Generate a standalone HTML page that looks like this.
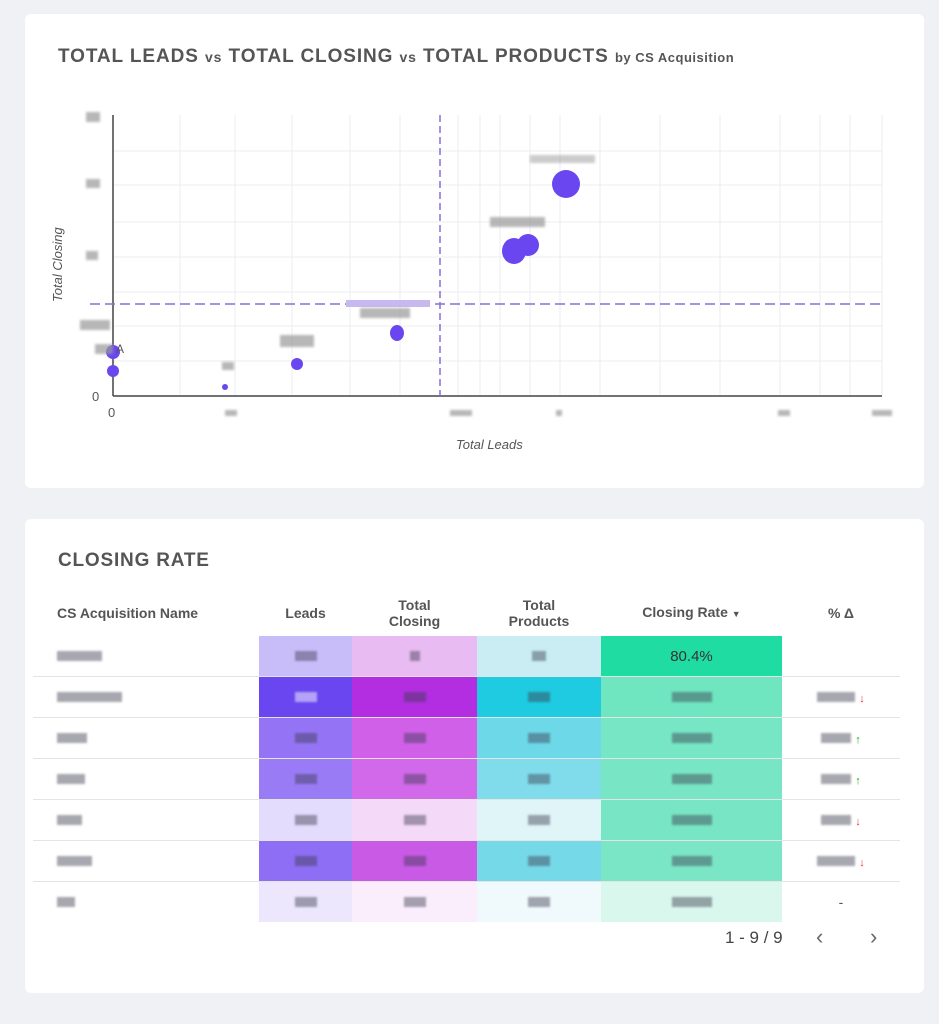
<!DOCTYPE html>
<html><head><meta charset="utf-8"><style>
body{margin:0;width:939px;height:1024px;background:#f0f1f4;font-family:"Liberation Sans",sans-serif;position:relative;overflow:hidden}
.card{position:absolute;left:25px;width:899px;background:#fff;border-radius:6px}
.t{position:absolute;font-weight:bold;color:#555;}
.blk{position:absolute;background:#999;filter:blur(1.2px);opacity:.7}
table{position:absolute;left:33px;top:590px;border-collapse:collapse}
td,th{padding:0;text-align:center;font-size:14px;color:#555}
th{height:46px;font-weight:bold;line-height:16px}
td{height:40px;border-bottom:1px solid #e4e4e4}
.g{display:inline-block;width:22px;height:10px;background:rgba(60,60,80,.45);filter:blur(1px)}
</style></head><body>
<div class="card" style="top:14px;height:474px"></div>
<div class="card" style="top:519px;height:474px"></div>
<div class="t" style="left:58px;top:46px;font-size:19px;letter-spacing:0.9px">TOTAL LEADS <span style="font-size:14px">vs</span> TOTAL CLOSING <span style="font-size:14px">vs</span> TOTAL PRODUCTS <span style="font-size:13px;letter-spacing:0.5px">by CS Acquisition</span></div>
<svg style="position:absolute;left:0;top:0" width="939" height="480">
<g stroke="#ececf2" stroke-width="1">
<line x1="113" y1="151" x2="882" y2="151"/><line x1="113" y1="185" x2="882" y2="185"/><line x1="113" y1="222" x2="882" y2="222"/><line x1="113" y1="257" x2="882" y2="257"/><line x1="113" y1="292" x2="882" y2="292"/><line x1="113" y1="326" x2="882" y2="326"/><line x1="113" y1="361" x2="882" y2="361"/>
<line x1="180" y1="115" x2="180" y2="396"/><line x1="235" y1="115" x2="235" y2="396"/><line x1="292" y1="115" x2="292" y2="396"/><line x1="350" y1="115" x2="350" y2="396"/><line x1="400" y1="115" x2="400" y2="396"/><line x1="458" y1="115" x2="458" y2="396"/><line x1="480" y1="115" x2="480" y2="396"/><line x1="500" y1="115" x2="500" y2="396"/><line x1="530" y1="115" x2="530" y2="396"/><line x1="560" y1="115" x2="560" y2="396"/><line x1="600" y1="115" x2="600" y2="396"/><line x1="660" y1="115" x2="660" y2="396"/><line x1="720" y1="115" x2="720" y2="396"/><line x1="780" y1="115" x2="780" y2="396"/><line x1="820" y1="115" x2="820" y2="396"/><line x1="850" y1="115" x2="850" y2="396"/><line x1="882" y1="115" x2="882" y2="396"/>
</g>
<line x1="113" y1="115" x2="113" y2="396" stroke="#444" stroke-width="1.5"/>
<line x1="113" y1="396" x2="882" y2="396" stroke="#444" stroke-width="1.5"/>
<line x1="440" y1="115" x2="440" y2="396" stroke="#8a6fd8" stroke-width="1.5" stroke-dasharray="7,4"/>
<line x1="90" y1="304" x2="882" y2="304" stroke="#8a6fd8" stroke-width="1.5" stroke-dasharray="10,5"/>
<g fill="#6a46f0">
<ellipse cx="566" cy="184" rx="14" ry="14"/><ellipse cx="514" cy="251" rx="12" ry="13"/><ellipse cx="528" cy="245" rx="11" ry="11"/><ellipse cx="397" cy="333" rx="7" ry="8"/><ellipse cx="297" cy="364" rx="6" ry="6"/><ellipse cx="113" cy="352" rx="7" ry="7"/><ellipse cx="113" cy="371" rx="6" ry="6"/><circle cx="225" cy="387" r="3"/>
</g>
<g font-size="13" fill="#555"><text x="92" y="401">0</text><text x="108" y="417">0</text><text x="116" y="353" font-size="12">A</text>
<text x="456" y="449" font-style="italic">Total Leads</text>
<text transform="translate(62,302) rotate(-90)" font-style="italic">Total Closing</text></g>
<rect x="346" y="300" width="84" height="7" fill="#c8b8f0"/>
</svg>
<div class="blk" style="left:86px;top:112px;width:14px;height:10px"></div>
<div class="blk" style="left:86px;top:179px;width:14px;height:9px"></div>
<div class="blk" style="left:86px;top:251px;width:12px;height:9px"></div>
<div class="blk" style="left:80px;top:320px;width:30px;height:10px"></div>
<div class="blk" style="left:95px;top:344px;width:18px;height:10px"></div>
<div class="blk" style="left:280px;top:335px;width:34px;height:12px"></div>
<div class="blk" style="left:222px;top:362px;width:12px;height:8px"></div>
<div class="blk" style="left:360px;top:308px;width:50px;height:10px"></div>
<div class="blk" style="left:490px;top:217px;width:55px;height:10px"></div>
<div class="blk" style="left:530px;top:155px;width:65px;height:8px;opacity:.5"></div>
<div class="blk" style="left:225px;top:410px;width:12px;height:6px"></div>
<div class="blk" style="left:450px;top:410px;width:22px;height:6px"></div>
<div class="blk" style="left:556px;top:410px;width:6px;height:6px"></div>
<div class="blk" style="left:778px;top:410px;width:12px;height:6px"></div>
<div class="blk" style="left:872px;top:410px;width:20px;height:6px"></div>

<div class="t" style="left:58px;top:550px;font-size:19px;letter-spacing:0.8px">CLOSING RATE</div>
<table>
<tr><th style="width:226px;text-align:left;padding-left:24px;box-sizing:border-box">CS Acquisition Name</th><th style="width:93px">Leads</th><th style="width:125px">Total<br>Closing</th><th style="width:124px">Total<br>Products</th><th style="width:181px">Closing Rate <span style="font-size:9px">▼</span></th><th style="width:118px">% Δ</th></tr>
<tr><td style="text-align:left;padding-left:24px"><span class="g" style="width:45px"></span></td><td style="background:#c9bdf9"><span class="g"></span></td><td style="background:#e9bbf3"><span class="g" style="width:10px"></span></td><td style="background:#c9edf3"><span class="g" style="width:14px"></span></td><td style="background:#1fdda2;color:#333;font-size:15px">80.4%</td><td></td></tr>
<tr><td style="text-align:left;padding-left:24px"><span class="g" style="width:65px"></span></td><td style="background:#6a46f0"><span class="g" style="background:rgba(255,255,255,.5)"></span></td><td style="background:#b22ee0"><span class="g"></span></td><td style="background:#1ecbe0"><span class="g"></span></td><td style="background:#6fe5c0"><span class="g" style="width:40px"></span></td><td><span class="g" style="width:38px"></span> <span style="color:#e33;font-size:11px">↓</span></td></tr>
<tr><td style="text-align:left;padding-left:24px"><span class="g" style="width:30px"></span></td><td style="background:#9474f5"><span class="g"></span></td><td style="background:#d060e8"><span class="g"></span></td><td style="background:#6dd8e8"><span class="g"></span></td><td style="background:#76e6c4"><span class="g" style="width:40px"></span></td><td><span class="g" style="width:30px"></span> <span style="color:#2a2;font-size:11px">↑</span></td></tr>
<tr><td style="text-align:left;padding-left:24px"><span class="g" style="width:28px"></span></td><td style="background:#9a7bf6"><span class="g"></span></td><td style="background:#d169ea"><span class="g"></span></td><td style="background:#80dcea"><span class="g"></span></td><td style="background:#78e6c4"><span class="g" style="width:40px"></span></td><td><span class="g" style="width:30px"></span> <span style="color:#2a2;font-size:11px">↑</span></td></tr>
<tr><td style="text-align:left;padding-left:24px"><span class="g" style="width:25px"></span></td><td style="background:#e3dcfc"><span class="g"></span></td><td style="background:#f4d9f9"><span class="g"></span></td><td style="background:#e0f5f8"><span class="g"></span></td><td style="background:#78e6c4"><span class="g" style="width:40px"></span></td><td><span class="g" style="width:30px"></span> <span style="color:#e33;font-size:11px">↓</span></td></tr>
<tr><td style="text-align:left;padding-left:24px"><span class="g" style="width:35px"></span></td><td style="background:#8e6ef4"><span class="g"></span></td><td style="background:#c85ae6"><span class="g"></span></td><td style="background:#76d9e8"><span class="g"></span></td><td style="background:#7ae6c6"><span class="g" style="width:40px"></span></td><td><span class="g" style="width:38px"></span> <span style="color:#e33;font-size:11px">↓</span></td></tr>
<tr><td style="text-align:left;padding-left:24px;border-bottom:none"><span class="g" style="width:18px"></span></td><td style="background:#ece7fd;border-bottom:none"><span class="g"></span></td><td style="background:#faeefc;border-bottom:none"><span class="g"></span></td><td style="background:#f0fafc;border-bottom:none"><span class="g"></span></td><td style="background:#d9f7ec;border-bottom:none"><span class="g" style="width:40px"></span></td><td style="border-bottom:none">-</td></tr>
</table>
<div style="position:absolute;left:725px;top:928px;font-size:17px;color:#444">1 - 9 / 9</div>
<div style="position:absolute;left:816px;top:924px;font-size:22px;color:#666">‹</div>
<div style="position:absolute;left:870px;top:924px;font-size:22px;color:#666">›</div>
</body></html>
